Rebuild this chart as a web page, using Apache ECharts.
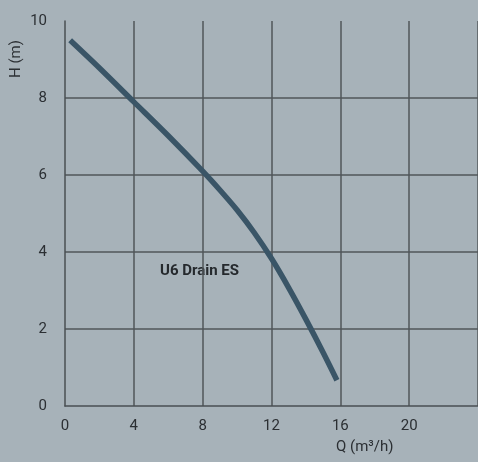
<!DOCTYPE html>
<html>
<head>
<meta charset="utf-8">
<style>
html,body{margin:0;padding:0;background:#a7b2b9;}
#c{width:478px;height:462px;}
</style>
<script src="https://cdn.jsdelivr.net/npm/echarts@6/dist/echarts.min.js"></script>
</head>
<body>
<div id="c"></div>
<script>
var flowQ = [0.3, 2, 4, 6, 8, 9, 10, 11, 12, 13, 14, 15, 15.8];
var headH = [9.5, 8.78, 7.9, 7.02, 6.1, 5.61, 5.09, 4.5, 3.83, 3.07, 2.25, 1.39, 0.67];
var seriesName = 'U6 Drain ES';
var xTitle = 'Q (m³/h)';
var yTitle = 'H (m)';

var chart = echarts.init(document.getElementById('c'));
var txt = '#2b2f33';
var font = 'Roboto';
chart.setOption({
  backgroundColor: '#a7b2b9',
  animation: false,
  grid: {left: 65, top: 21, bottom: 56, width: 417.6},
  xAxis: {
    type: 'value', min: 0, max: 24, interval: 4,
    axisLine: {show: true, lineStyle: {color: '#4a4f53', width: 1.5}},
    axisTick: {show: false},
    axisLabel: {color: txt, fontFamily: font, fontSize: 15, margin: 13, showMaxLabel: false},
    splitLine: {show: true, showMinLine: false, lineStyle: {color: '#50565a', width: 1.5}}
  },
  yAxis: {
    type: 'value', min: 0, max: 10, interval: 2,
    axisLine: {show: true, lineStyle: {color: '#4a4f53', width: 1.5}},
    axisTick: {show: false},
    axisLabel: {color: txt, fontFamily: font, fontSize: 15, margin: 18},
    splitLine: {show: true, showMaxLine: false, showMinLine: false, lineStyle: {color: '#50565a', width: 1.5}}
  },
  graphic: [
    {type: 'text', left: 160, top: 264, style: {text: seriesName, fill: '#25292d', font: 'bold 15px Roboto'}},
    {type: 'text', x: 9, y: 78, rotation: Math.PI / 2, style: {text: yTitle, fill: txt, font: '15px Roboto'}},
    {type: 'text', left: 336, top: 440, style: {text: xTitle, fill: txt, font: '15px Roboto'}}
  ],
  series: [{
    type: 'line',
    name: seriesName,
    data: flowQ.map(function (q, i) { return [q, headH[i]]; }),
    smooth: 0.3,
    showSymbol: false,
    lineStyle: {color: '#3a5567', width: 5.5, cap: 'butt'}
  }]
});
</script>
</body>
</html>
